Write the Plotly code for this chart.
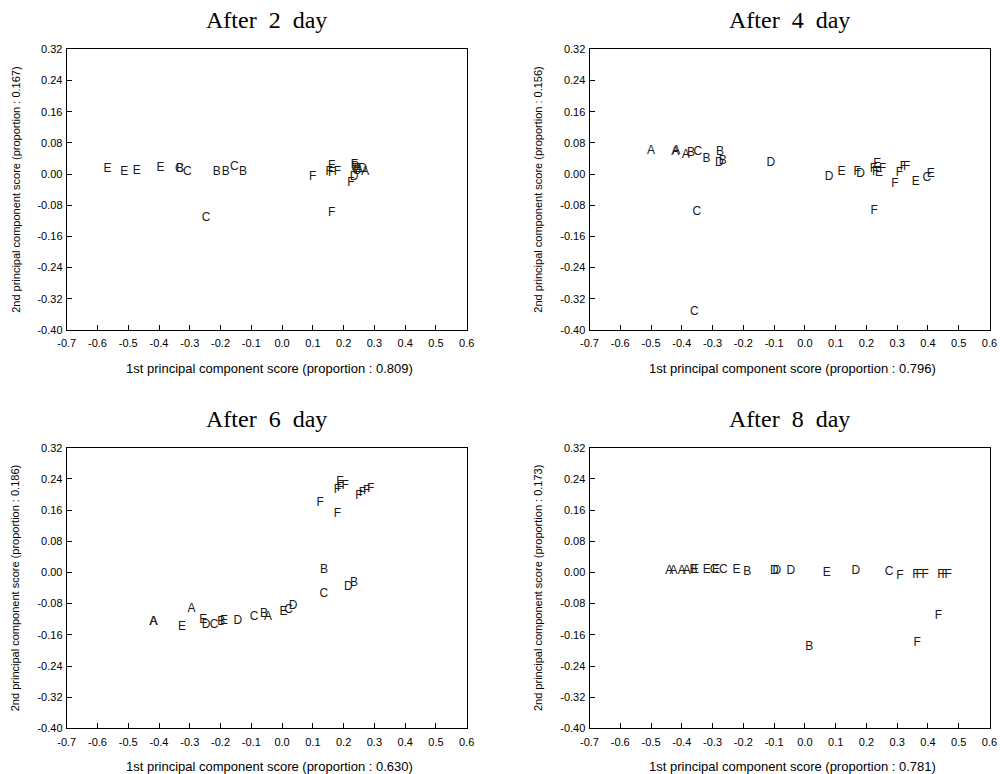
import plotly.graph_objects as go

# ---------------- data ----------------
titles = ["After 2 day", "After 4 day", "After 6 day", "After 8 day"]
x_props = ["0.809", "0.796", "0.630", "0.781"]
y_props = ["0.167", "0.156", "0.186", "0.173"]

# Panel 1 : After 2 day
p1_lab = ["E", "E", "E", "E",
          "C", "C", "C", "C", "C",
          "B", "B", "B", "B", "B",
          "F", "F", "F", "F", "F", "F", "F", "F",
          "D", "D", "A", "A", "E"]
p1_x = [-0.567, -0.513, -0.472, -0.395,
        -0.334, -0.308, -0.155, -0.247, 0.243,
        -0.332, -0.212, -0.183, -0.127, 0.238,
        0.0995, 0.161, 0.153, 0.161, 0.180, 0.161, 0.235, 0.224,
        0.234, 0.262, 0.270, 0.250, 0.245]
p1_y = [0.013, 0.005, 0.008, 0.015,
        0.013, 0.006, 0.017, -0.114, 0.008,
        0.013, 0.005, 0.004, 0.005, 0.017,
        -0.007, 0.021, 0.005, 0.002, 0.006, -0.099, 0.022, -0.024,
        -0.008, 0.012, 0.006, 0.010, 0.012]

# Panel 2 : After 4 day
p2_lab = ["A", "A", "A", "A",
          "B", "B", "B", "B",
          "C", "C", "C", "C",
          "D", "D", "D", "D",
          "E", "E", "E", "E", "E",
          "F", "F", "F", "F", "F", "F", "F", "F", "F"]
p2_x = [-0.500, -0.421, -0.418, -0.387,
        -0.370, -0.320, -0.276, -0.267,
        -0.348, -0.351, -0.359, 0.396,
        -0.278, -0.111, 0.079, 0.181,
        0.119, 0.235, 0.241, 0.360, 0.409,
        0.170, 0.223, 0.230, 0.253, 0.307, 0.320, 0.331, 0.293, 0.225]
p2_y = [0.060, 0.057, 0.058, 0.050,
        0.053, 0.039, 0.057, 0.033,
        0.057, -0.097, -0.353, -0.011,
        0.029, 0.028, -0.007, -0.001,
        0.004, 0.026, 0.002, -0.021, -0.001,
        0.004, 0.012, 0.006, 0.012, 0.002, 0.019, 0.019, -0.025, -0.095]

# Panel 3 : After 6 day
p3_lab = ["A", "A", "A", "A",
          "E", "E", "E", "E",
          "D", "D", "D", "D",
          "C", "C", "C", "C",
          "B", "B", "B", "B",
          "F", "F", "F", "F", "F", "F", "F", "F", "F", "F"]
p3_x = [-0.419, -0.417, -0.294, -0.046,
        -0.325, -0.256, -0.189, 0.005,
        -0.247, -0.144, 0.036, 0.215,
        -0.221, -0.091, 0.021, 0.136,
        -0.198, -0.059, 0.136, 0.234,
        0.124, 0.188, 0.180, 0.190, 0.205, 0.180, 0.250, 0.261, 0.275, 0.288]
p3_y = [-0.128, -0.128, -0.094, -0.114,
        -0.139, -0.121, -0.124, -0.101,
        -0.134, -0.124, -0.087, -0.037,
        -0.134, -0.114, -0.096, -0.055,
        -0.128, -0.107, 0.005, -0.026,
        0.177, 0.231, 0.211, 0.216, 0.221, 0.150, 0.195, 0.204, 0.210, 0.214]

# Panel 4 : After 8 day
p4_lab = ["A", "A", "A", "A",
          "B", "B", "B",
          "E", "E", "E", "E", "E",
          "C", "C", "C",
          "D", "D", "D", "D",
          "F", "F", "F", "F", "F", "F", "F", "F", "F"]
p4_x = [-0.441, -0.427, -0.400, -0.384,
        -0.362, -0.187, 0.014,
        -0.357, -0.319, -0.289, -0.222, 0.071,
        -0.295, -0.265, 0.274,
        -0.099, -0.091, -0.046, 0.166,
        0.309, 0.361, 0.372, 0.391, 0.442, 0.456, 0.466, 0.434, 0.365]
p4_y = [0.004, 0.004, 0.004, 0.004,
        0.006, 0.000, -0.192,
        0.006, 0.006, 0.006, 0.006, -0.001,
        0.006, 0.006, 0.000,
        0.004, 0.004, 0.004, 0.003,
        -0.008, -0.006, -0.006, -0.006, -0.006, -0.006, -0.006, -0.113, -0.180]

panels = [(p1_lab, p1_x, p1_y), (p2_lab, p2_x, p2_y),
          (p3_lab, p3_x, p3_y), (p4_lab, p4_x, p4_y)]

x_ticks = [round(-0.7 + 0.1 * i, 1) for i in range(14)]
y_ticks = [round(-0.40 + 0.08 * i, 2) for i in range(10)]

# ---------------- layout ----------------
W, H = 1000, 774
# plot-area edges in pixels (left, right, top, bottom)
boxes = [(66.7, 466.7, 49.3, 330.0), (589.5, 989.5, 49.3, 330.0),
         (66.7, 466.7, 447.7, 728.4), (589.5, 989.5, 447.7, 728.4)]

SANS = "Arial, Liberation Sans, sans-serif"
SERIF = "Times New Roman, Liberation Serif, serif"
NB = "\u00a0"

fig = go.Figure()
layout = dict(width=W, height=H, margin=dict(l=0, r=0, t=0, b=0, autoexpand=False),
              template="none",
              paper_bgcolor="white", plot_bgcolor="white", showlegend=False,
              annotations=[])

def px_x(p):
    return p / W

def px_y(p):
    return 1 - p / H

for i, (lab, xs, ys) in enumerate(panels):
    n = i + 1
    L, R, T, B = boxes[i]
    xa = "x" if n == 1 else f"x{n}"
    ya = "y" if n == 1 else f"y{n}"
    fig.add_trace(go.Scatter(x=xs, y=ys, text=lab, mode="text",
                             textposition="middle center",
                             textfont=dict(family=SANS, size=12, color="#1a1a1a"),
                             xaxis=xa, yaxis=ya, hoverinfo="skip"))
    xkey = "xaxis" if n == 1 else f"xaxis{n}"
    ykey = "yaxis" if n == 1 else f"yaxis{n}"
    layout[xkey] = dict(domain=[px_x(L), px_x(R)], anchor=ya, range=[-0.7, 0.6],
                        automargin=False, fixedrange=True,
                        tickvals=x_ticks, ticktext=[f"{v:.1f}" for v in x_ticks],
                        ticks="inside", ticklen=5, tickcolor="black", tickwidth=1,
                        ticklabelstandoff=3,
                        showline=True, linecolor="black", linewidth=1, mirror=True,
                        showgrid=False, zeroline=False,
                        tickfont=dict(family=SANS, size=11, color="black"))
    layout[ykey] = dict(domain=[px_y(B), px_y(T)], anchor=xa, range=[-0.40, 0.32],
                        automargin=False, fixedrange=True,
                        tickvals=y_ticks, ticktext=[f"{v:.2f}" for v in y_ticks],
                        ticks="inside", ticklen=5, tickcolor="black", tickwidth=1,
                        ticklabelstandoff=1,
                        showline=True, linecolor="black", linewidth=1, mirror=True,
                        showgrid=False, zeroline=False,
                        tickfont=dict(family=SANS, size=11, color="black"))
    cx = (L + R) / 2
    cy = (T + B) / 2
    # panel title
    layout["annotations"].append(dict(
        text=titles[i].replace(" ", NB * 2), x=px_x(cx), y=px_y(T - 29),
        xref="paper", yref="paper", xanchor="center", yanchor="middle",
        showarrow=False, font=dict(family=SERIF, size=24, color="black")))
    # x axis title
    layout["annotations"].append(dict(
        text=f"1st principal component score (proportion : {x_props[i]})",
        x=px_x(cx + 3), y=px_y(B + 38.3),
        xref="paper", yref="paper", xanchor="center", yanchor="middle",
        showarrow=False, font=dict(family=SANS, size=13, color="black")))
    # y axis title
    layout["annotations"].append(dict(
        text=f"2nd principal component score (proportion : {y_props[i]})",
        x=px_x(L - 51.5), y=px_y(cy), textangle=-90,
        xref="paper", yref="paper", xanchor="center", yanchor="middle",
        showarrow=False, font=dict(family=SANS, size=11, color="black")))

fig.update_layout(**layout)
fig.write_html("out.html", config={"displayModeBar": False, "staticPlot": True},
               post_script="document.body.style.margin='0';document.body.style.overflow='hidden';")
